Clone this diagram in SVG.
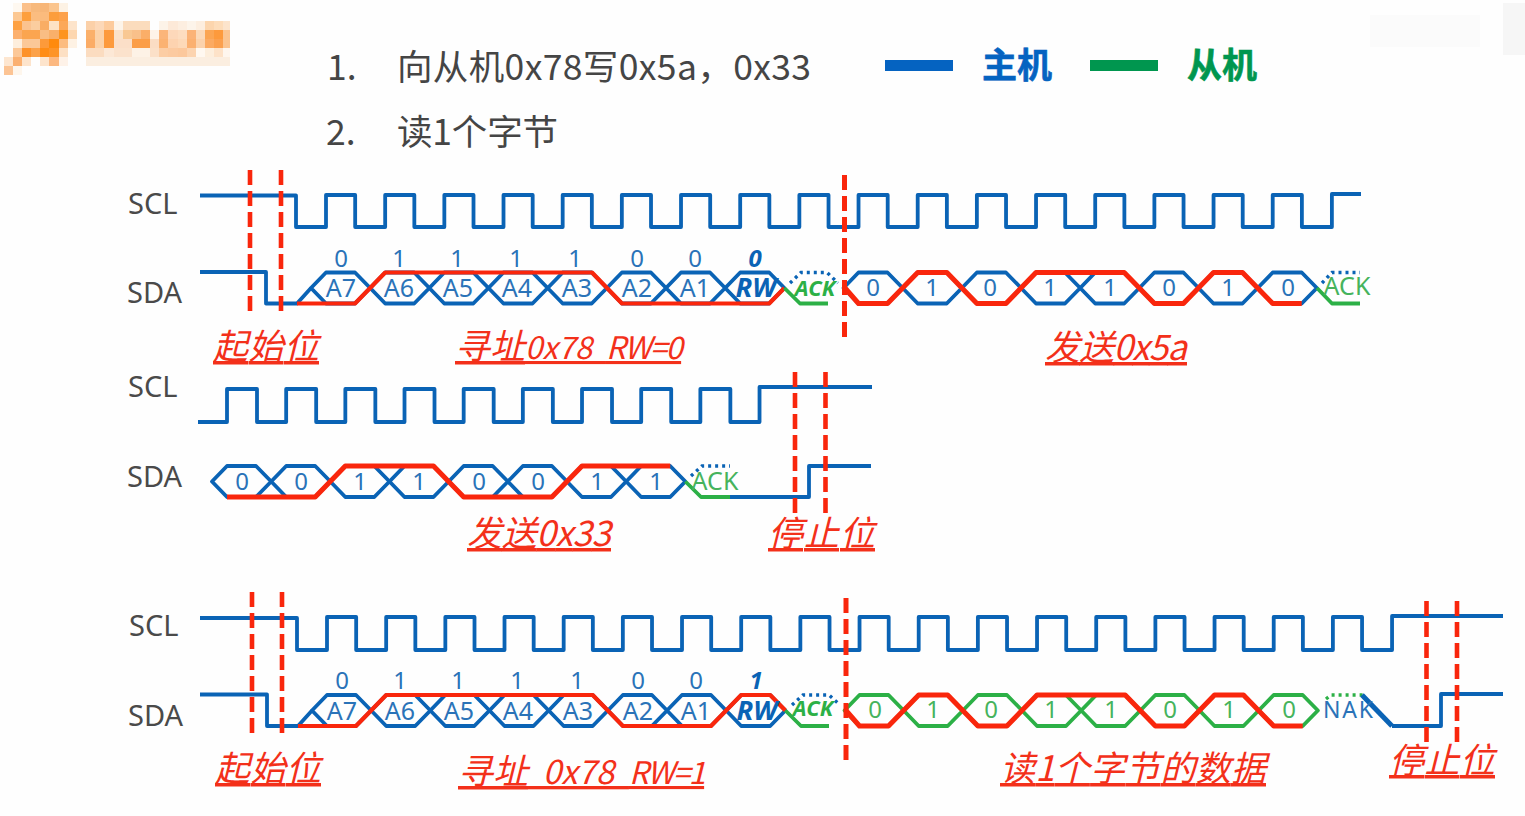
<svg xmlns="http://www.w3.org/2000/svg" width="1525" height="816" viewBox="0 0 1525 816">
<style>
text{font-family:"Noto Sans","Noto Sans CJK SC","Liberation Sans",sans-serif}
.w{fill:none;stroke:#0a63b5;stroke-width:3.8;stroke-linejoin:round;stroke-linecap:butt}
.g{fill:none;stroke:#2cb046;stroke-width:3.8;stroke-linejoin:round}
.r{fill:none;stroke:#f9260c;stroke-width:4.2;stroke-linejoin:round}
.r5{fill:none;stroke:#f9260c;stroke-width:5;stroke-linejoin:round}
.dot{fill:none;stroke:#0a63b5;stroke-width:3.4;stroke-dasharray:3 4}
.cut{fill:none;stroke:#f9260c;stroke-width:4.6;stroke-dasharray:15 6}
.sig{font-size:29px;fill:#4a4a4a}
.bit{font-size:24px;fill:#2a73b8;text-anchor:middle}
.cell{font-size:25px;fill:#2a73b8;text-anchor:middle}
.gb{font-size:24px;fill:#46b35c;text-anchor:middle}
.rw{font-size:27px;font-weight:700;font-style:italic;fill:#0a63b5;text-anchor:middle}
.bi{font-size:24px;font-weight:700;font-style:italic;fill:#0a63b5;text-anchor:middle}
.ack{font-size:22px;font-weight:700;font-style:italic;fill:#2cb046;text-anchor:middle}
.ackr{font-size:25px;fill:#46b35c;text-anchor:middle}
.lab{font-family:"Noto Sans CJK SC","Noto Sans",sans-serif;font-size:35px;font-style:italic;fill:#f3301a;text-decoration:underline;text-decoration-thickness:1.6px;text-underline-offset:4px;white-space:pre}
.lat{font-size:31px}
.lat2{font-size:33px}
.nar{font-size:31px;letter-spacing:-1.6px}
.hd{font-family:"Noto Sans CJK SC","Noto Sans",sans-serif;font-size:35.5px;fill:#454545}
.lg{font-family:"Noto Sans CJK SC",sans-serif;font-size:35px;font-weight:700;stroke-width:.6px}
</style>
<defs>
<path id="hex" d="M0 0L15 -15.5H44L59.17 0L44 15.5H15Z"/>
</defs>
<rect width="1525" height="816" fill="#fefefe"/>

<g id="logo" shape-rendering="crispEdges">
<rect x="12.8" y="3.3" width="9.2" height="9" fill="#fef8f0"/><rect x="22" y="3.3" width="9.2" height="9" fill="#fbc08a"/><rect x="31.1" y="3.3" width="9.2" height="9" fill="#f7b97c"/><rect x="40.3" y="3.3" width="9.2" height="9" fill="#f7b678"/><rect x="49.4" y="3.3" width="9.2" height="9" fill="#fbc58e"/><rect x="58.6" y="3.3" width="9.2" height="9" fill="#fdf2e4"/>
<rect x="12.8" y="12.3" width="9.2" height="9" fill="#fcc893"/><rect x="22" y="12.3" width="9.2" height="9" fill="#fd9f3d"/><rect x="31.1" y="12.3" width="9.2" height="9" fill="#fbbd80"/><rect x="40.3" y="12.3" width="9.2" height="9" fill="#fbbb7d"/><rect x="49.4" y="12.3" width="9.2" height="9" fill="#fc9d3c"/><rect x="58.6" y="12.3" width="9.2" height="9" fill="#fda14a"/>
<rect x="12.8" y="21.2" width="9.2" height="9" fill="#fea142"/><rect x="22" y="21.2" width="9.2" height="9" fill="#fbc390"/><rect x="31.1" y="21.2" width="9.2" height="9" fill="#fbcd9f"/><rect x="40.3" y="21.2" width="9.2" height="9" fill="#f9ad64"/><rect x="49.4" y="21.2" width="9.2" height="9" fill="#fde2c5"/><rect x="58.6" y="21.2" width="9.2" height="9" fill="#fca859"/><rect x="67.7" y="21.2" width="9.2" height="9" fill="#fde4cb"/><rect x="86" y="21.2" width="9.2" height="9" fill="#fbd0a8"/><rect x="95.2" y="21.2" width="9.2" height="9" fill="#fcd8b8"/><rect x="104.3" y="21.2" width="9.2" height="9" fill="#fdcb9c"/><rect x="113.5" y="21.2" width="9.2" height="9" fill="#fdf4e9"/><rect x="122.6" y="21.2" width="27.6" height="9" fill="#fbdcbd"/><rect x="159.3" y="21.2" width="9.2" height="9" fill="#fdf3e8"/><rect x="168.4" y="21.2" width="9.2" height="9" fill="#fde9d8"/><rect x="177.6" y="21.2" width="9.2" height="9" fill="#fdeee0"/><rect x="186.7" y="21.2" width="9.2" height="9" fill="#fdf4ea"/><rect x="195.9" y="21.2" width="9.2" height="9" fill="#fdeedf"/><rect x="205" y="21.2" width="9.2" height="9" fill="#fcd5ad"/><rect x="214.2" y="21.2" width="9.2" height="9" fill="#fddcb9"/><rect x="223.3" y="21.2" width="7" height="9" fill="#fce4cc"/>
<rect x="12.8" y="30" width="9.2" height="9" fill="#fcb06e"/><rect x="22" y="30" width="18.3" height="9" fill="#fba550"/><rect x="40.3" y="30" width="9.2" height="9" fill="#f9bd84"/><rect x="49.4" y="30" width="9.2" height="9" fill="#f9b06a"/><rect x="58.6" y="30" width="9.2" height="9" fill="#fd941f"/><rect x="67.7" y="30" width="9.2" height="9" fill="#fdd7b0"/><rect x="86" y="30" width="9.2" height="9" fill="#fbb06a"/><rect x="95.2" y="30" width="9.2" height="9" fill="#fcd2a8"/><rect x="104.3" y="30" width="9.2" height="9" fill="#fd9a3c"/><rect x="113.5" y="30" width="9.2" height="9" fill="#fbe2c8"/><rect x="122.6" y="30" width="9.2" height="9" fill="#f9c892"/><rect x="131.8" y="30" width="9.2" height="9" fill="#f9c08a"/><rect x="140.9" y="30" width="9.2" height="9" fill="#fbae68"/><rect x="150.1" y="30" width="9.2" height="9" fill="#fef3e8"/><rect x="159.3" y="30" width="9.2" height="9" fill="#fbb57a"/><rect x="168.4" y="30" width="9.2" height="9" fill="#fdd8ba"/><rect x="177.6" y="30" width="9.2" height="9" fill="#fdddc0"/><rect x="186.7" y="30" width="9.2" height="9" fill="#fbb377"/><rect x="195.9" y="30" width="9.2" height="9" fill="#fbd9b8"/><rect x="205" y="30" width="9.2" height="9" fill="#fba552"/><rect x="214.2" y="30" width="9.2" height="9" fill="#fd9a3c"/><rect x="223.3" y="30" width="7" height="9" fill="#fbc48f"/>
<rect x="12.8" y="39" width="9.2" height="9" fill="#fdeedd"/><rect x="22" y="39" width="18.3" height="9" fill="#fbc898"/><rect x="40.3" y="39" width="9.2" height="9" fill="#fd9a3a"/><rect x="49.4" y="39" width="9.2" height="9" fill="#ff8a0c"/><rect x="58.6" y="39" width="9.2" height="9" fill="#fcbc80"/><rect x="67.7" y="39" width="9.2" height="9" fill="#fef2e4"/><rect x="86" y="39" width="9.2" height="9" fill="#fbac66"/><rect x="95.2" y="39" width="9.2" height="9" fill="#fcd2a8"/><rect x="104.3" y="39" width="9.2" height="9" fill="#fd9a3c"/><rect x="113.5" y="39" width="18.3" height="9" fill="#fbdfc8"/><rect x="131.8" y="39" width="18.3" height="9" fill="#fb9e48"/><rect x="150.1" y="39" width="9.2" height="9" fill="#fbddc4"/><rect x="159.3" y="39" width="9.2" height="9" fill="#fbb272"/><rect x="168.4" y="39" width="9.2" height="9" fill="#fdd3b0"/><rect x="177.6" y="39" width="9.2" height="9" fill="#fdd9b8"/><rect x="186.7" y="39" width="9.2" height="9" fill="#fbb070"/><rect x="195.9" y="39" width="9.2" height="9" fill="#fbd2ac"/><rect x="205" y="39" width="9.2" height="9" fill="#fbaa62"/><rect x="214.2" y="39" width="9.2" height="9" fill="#fba04e"/><rect x="223.3" y="39" width="7" height="9" fill="#fbc48f"/>
<rect x="12.8" y="48" width="9.2" height="9" fill="#fcc898"/><rect x="22" y="48" width="9.2" height="9" fill="#fd922a"/><rect x="31.1" y="48" width="9.2" height="9" fill="#fca24a"/><rect x="40.3" y="48" width="9.2" height="9" fill="#ff8c14"/><rect x="49.4" y="48" width="9.2" height="9" fill="#fd9428"/><rect x="58.6" y="48" width="9.2" height="9" fill="#fde0c4"/><rect x="86" y="48" width="18.3" height="9" fill="#fbdcc0"/><rect x="104.3" y="48" width="9.2" height="9" fill="#fce8d6"/><rect x="113.5" y="48" width="18.3" height="9" fill="#fbe2cc"/><rect x="131.8" y="48" width="18.3" height="9" fill="#fdf2e6"/><rect x="150.1" y="48" width="9.2" height="9" fill="#fbe0c8"/><rect x="159.3" y="48" width="9.2" height="9" fill="#fccda4"/><rect x="168.4" y="48" width="9.2" height="9" fill="#fccaa0"/><rect x="177.6" y="48" width="9.2" height="9" fill="#fcc89c"/><rect x="186.7" y="48" width="9.2" height="9" fill="#fcd4b0"/><rect x="195.9" y="48" width="9.2" height="9" fill="#fff8f0"/><rect x="205" y="48" width="9.2" height="9" fill="#fdeedc"/><rect x="214.2" y="48" width="9.2" height="9" fill="#fde2c8"/><rect x="223.3" y="48" width="7" height="9" fill="#fef6ee"/>
<rect x="3.7" y="57" width="9.2" height="9" fill="#fde6d0"/><rect x="12.8" y="57" width="9.2" height="9" fill="#fbb070"/><rect x="22" y="57" width="9.2" height="9" fill="#fde4cc"/><rect x="40.3" y="57" width="9.2" height="9" fill="#fde4cc"/><rect x="49.4" y="57" width="9.2" height="9" fill="#fcb880"/><rect x="58.6" y="57" width="9.2" height="9" fill="#fef2e8"/><rect x="86" y="57" width="144" height="9" fill="#fbeee0"/>
<rect x="3.7" y="66" width="9.2" height="9" fill="#fcc494"/><rect x="12.8" y="66" width="9.2" height="9" fill="#fef6ec"/>
</g>
<g id="watermark" shape-rendering="crispEdges">
<rect x="1370" y="15" width="110" height="32" fill="#fbfbfb"/>
<rect x="1503" y="3" width="22" height="52" fill="#f6f6f6"/>
</g>

<g id="title">
<text class="hd" x="327" y="80">1.</text>
<text class="hd" x="397" y="80" textLength="414">向从机0x78写0x5a，0x33</text>
<text class="hd" x="326" y="145">2.</text>
<text class="hd" x="397" y="145" textLength="161">读1个字节</text>
</g>
<g id="legend">
<rect x="885" y="60" width="68" height="11" fill="#0563c1"/>
<text class="lg" x="982" y="78" fill="#0563c1" stroke="#0563c1">主机</text>
<rect x="1090" y="60" width="68" height="11" fill="#00964f"/>
<text class="lg" x="1187" y="78" fill="#00964f" stroke="#00964f">从机</text>
</g>

<g id="write-first">
<g id="r1-labels">
<text class="sig" x="128" y="214">SCL</text>
<text class="sig" x="127" y="303">SDA</text>
</g>
<g id="r1-scl"><path class="w" d="M200 195.5H296V227h30v-32h29.17v32h30v-32h29.17v32h30v-32h29.17v32h30v-32h29.17v32h30v-32h29.17v32h30v-32h29.17v32h30v-32h29.17v32h30v-32h29.17v32h30v-32h29.17v32h30v-32h29.17v32h30v-32h29.17v32h30v-32h29.17v32h30v-32h29.17v32h30v-32h29.17v32h30v-32h29.17v32h30v-32h29.17v32h30v-32h29.17v32h30v-33H1361"/></g>
<g id="r1-sda">
<path class="w" d="M200 272H266V303.5H297L311 288"/>
<g class="w">
<use href="#hex" x="311" y="288"/><use href="#hex" x="370.2" y="288"/><use href="#hex" x="429.3" y="288"/><use href="#hex" x="488.5" y="288"/><use href="#hex" x="547.7" y="288"/><use href="#hex" x="606.9" y="288"/><use href="#hex" x="666" y="288"/><use href="#hex" x="725.2" y="288"/>
<use href="#hex" x="843.5" y="288"/><use href="#hex" x="902.7" y="288"/><use href="#hex" x="961.9" y="288"/><use href="#hex" x="1021" y="288"/><use href="#hex" x="1080.2" y="288"/><use href="#hex" x="1139.4" y="288"/><use href="#hex" x="1198.5" y="288"/><use href="#hex" x="1257.7" y="288"/>
</g>
<path class="r" d="M297 303.5H355L385.2 272.5H592L622 303.5H769.2L784.4 288"/>
<path class="r5" d="M845 288L858.5 303.5H887.5L917.7 272.5H946.9L976.9 303.5H1006L1036 272.5H1124.2L1154.4 303.5H1183.4L1213.5 272.5H1242.5L1272.7 303.5H1301.7"/>
<path class="g" d="M784.4 288L800 303.5H828"/>
<path class="dot" d="M790 283L801 272.5H827L838 283"/>
<path class="g" d="M1317 288L1332 303.5H1360"/>
<path class="dot" d="M1322 283L1332 272.5H1360"/>
</g>
<g id="r1-text">
<text class="bit" x="341" y="267">0</text><text class="bit" x="399" y="267">1</text><text class="bit" x="457" y="267">1</text><text class="bit" x="516" y="267">1</text><text class="bit" x="575" y="267">1</text><text class="bit" x="637" y="267">0</text><text class="bit" x="695" y="267">0</text><text class="bi" x="755" y="267">0</text>
<text class="cell" x="341" y="297">A7</text><text class="cell" x="399" y="297">A6</text><text class="cell" x="458" y="297">A5</text><text class="cell" x="517" y="297">A4</text><text class="cell" x="577" y="297">A3</text><text class="cell" x="637" y="297">A2</text><text class="cell" x="695" y="297">A1</text>
<text class="rw" x="756" y="297">RW</text>
<text class="ack" x="815" y="296">ACK</text>
<text class="bit" x="873" y="296">0</text><text class="bit" x="932" y="296">1</text><text class="bit" x="990" y="296">0</text><text class="bit" x="1050" y="296">1</text><text class="bit" x="1110" y="296">1</text><text class="bit" x="1169" y="296">0</text><text class="bit" x="1228" y="296">1</text><text class="bit" x="1288" y="296">0</text>
<text class="ackr" x="1347" y="295">ACK</text>
<text class="lab" x="213" y="359" textLength="106">起始位</text>
<text class="lab" x="455" y="359">寻址<tspan class="lat">0x78  </tspan><tspan class="nar">RW=0</tspan></text>
<text class="lab" x="1045" y="360" textLength="142">发送0x5a</text>
</g>
<g id="r1-cuts">
<path class="cut" d="M250 170V313"/><path class="cut" d="M281 170V313"/><path class="cut" d="M844.5 175V338" style="stroke-width:5"/>
</g>
</g>

<g id="write-second">
<g id="r2-labels">
<text class="sig" x="128" y="397">SCL</text>
<text class="sig" x="127" y="487">SDA</text>
</g>
<g id="r2-scl"><path class="w" d="M198 422H227V389h30v33h29.17v-33h30v33h29.17v-33h30v33h29.17v-33h30v33h29.17v-33h30v33h29.17v-33h30v33h29.17v-33h30v33h29.17v-33h30v33h29.17v-33h30v33h29.17V387H872"/></g>
<g id="r2-sda">
<g class="w">
<use href="#hex" x="212" y="481.5"/><use href="#hex" x="271.2" y="481.5"/><use href="#hex" x="330.3" y="481.5"/><use href="#hex" x="389.5" y="481.5"/><use href="#hex" x="448.7" y="481.5"/><use href="#hex" x="507.9" y="481.5"/><use href="#hex" x="567" y="481.5"/><use href="#hex" x="626.2" y="481.5"/>
</g>
<path class="r5" d="M227 497H315.2L345.3 466H433.5L463.7 497H551.9L582 466H670.2"/>
<path class="g" d="M685.4 481.5L701 497H730"/>
<path class="dot" d="M691 476L702 466H730"/>
<path class="w" d="M730 497H809V466H871"/>
</g>
<g id="r2-text">
<text class="bit" x="242" y="490">0</text><text class="bit" x="301" y="490">0</text><text class="bit" x="360" y="490">1</text><text class="bit" x="419" y="490">1</text><text class="bit" x="479" y="490">0</text><text class="bit" x="538" y="490">0</text><text class="bit" x="597" y="490">1</text><text class="bit" x="656" y="490">1</text>
<text class="ackr" x="715" y="490">ACK</text>
<text class="lab" x="467" y="546" textLength="144">发送0x33</text>
<text class="lab" x="768" y="546" textLength="107">停止位</text>
</g>
<g id="r2-cuts">
<path class="cut" d="M795 372V513"/><path class="cut" d="M825.5 372V513"/>
</g>
</g>

<g id="read">
<g id="r3-labels">
<text class="sig" x="129" y="636">SCL</text>
<text class="sig" x="128" y="726">SDA</text>
</g>
<g id="r3-scl"><path class="w" d="M200 618H297V650h30v-33h29.17v33h30v-33h29.17v33h30v-33h29.17v33h30v-33h29.17v33h30v-33h29.17v33h30v-33h29.17v33h30v-33h29.17v33h30v-33h29.17v33h30v-33h29.17v33h30v-33h29.17v33h30v-33h29.17v33h30v-33h29.17v33h30v-33h29.17v33h30v-33h29.17v33h30v-33h29.17v33h30v-33h29.17v33h30v-33h29.17v33h30v-33h29.17v33h30V616H1503"/></g>
<g id="r3-sda">
<path class="w" d="M200 694.5H267V726H298L312 710.5"/>
<g class="w">
<use href="#hex" x="312" y="710.5"/><use href="#hex" x="371.2" y="710.5"/><use href="#hex" x="430.3" y="710.5"/><use href="#hex" x="489.5" y="710.5"/><use href="#hex" x="548.7" y="710.5"/><use href="#hex" x="607.9" y="710.5"/><use href="#hex" x="667" y="710.5"/><use href="#hex" x="726.2" y="710.5"/>
</g>
<g class="g">
<use href="#hex" x="844.5" y="710.5"/><use href="#hex" x="903.7" y="710.5"/><use href="#hex" x="962.9" y="710.5"/><use href="#hex" x="1022" y="710.5"/><use href="#hex" x="1081.2" y="710.5"/><use href="#hex" x="1140.4" y="710.5"/><use href="#hex" x="1199.5" y="710.5"/><use href="#hex" x="1258.7" y="710.5"/>
</g>
<path class="r" d="M298 726H356L386.2 695H592.7L622.9 726H711L741.2 695H770.2L785.4 710.5"/>
<path class="r5" d="M846 710.5L859.5 726H888.5L918.7 695H947.7L977.9 726H1006.9L1037 695H1125.2L1155.4 726H1184.4L1214.5 695H1243.5L1273.7 726H1302.7"/>
<path class="g" d="M785.4 710.5L801 726H829"/>
<path class="dot" d="M792 705L803 695H829L840 705"/>
<path class="dot" d="M1326 699L1331 695H1363" style="stroke:#2cb046"/>
<path class="w" d="M1362 695L1392 726" style="stroke-width:5"/>
<path class="w" d="M1392 726H1441V694H1503"/>
</g>
<g id="r3-text">
<text class="bit" x="342" y="689">0</text><text class="bit" x="400" y="689">1</text><text class="bit" x="458" y="689">1</text><text class="bit" x="517" y="689">1</text><text class="bit" x="577" y="689">1</text><text class="bit" x="638" y="689">0</text><text class="bit" x="696" y="689">0</text><text class="bi" x="756" y="689">1</text>
<text class="cell" x="342" y="720">A7</text><text class="cell" x="400" y="720">A6</text><text class="cell" x="459" y="720">A5</text><text class="cell" x="518" y="720">A4</text><text class="cell" x="578" y="720">A3</text><text class="cell" x="638" y="720">A2</text><text class="cell" x="696" y="720">A1</text>
<text class="rw" x="757" y="720">RW</text>
<text class="ack" x="813" y="716">ACK</text>
<text class="gb" x="875" y="718">0</text><text class="gb" x="933" y="718">1</text><text class="gb" x="991" y="718">0</text><text class="gb" x="1051" y="718">1</text><text class="gb" x="1111" y="718">1</text><text class="gb" x="1170" y="718">0</text><text class="gb" x="1229" y="718">1</text><text class="gb" x="1289" y="718">0</text>
<text class="cell" x="1348" y="718" style="font-size:23px" textLength="50">NAK</text>
<text class="lab" x="215" y="781" textLength="106">起始位</text>
<text class="lab" x="458" y="784">寻址<tspan class="lat2">  0x78  </tspan><tspan class="nar">RW=1</tspan></text>
<text class="lab" x="1000" y="781" textLength="266">读1个字节的数据</text>
<text class="lab" x="1389" y="773" textLength="106">停止位</text>
</g>
<g id="r3-cuts">
<path class="cut" d="M252 592V735"/><path class="cut" d="M282 592V735"/><path class="cut" d="M846 598V760" style="stroke-width:5"/>
<path class="cut" d="M1426.5 601V745"/><path class="cut" d="M1457 601V745"/>
</g>
</g>
</svg>
